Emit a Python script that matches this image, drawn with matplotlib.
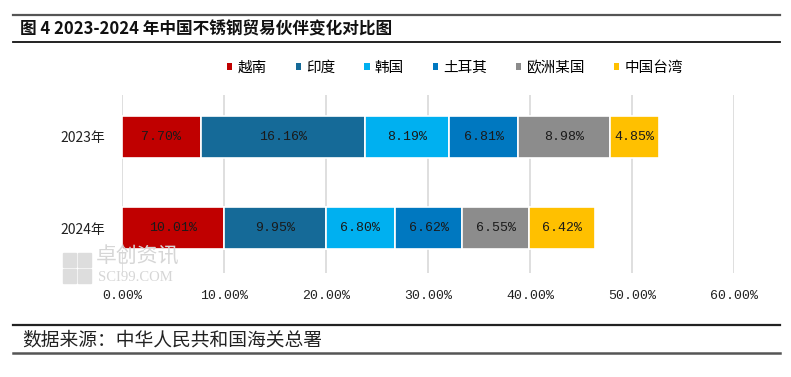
import matplotlib
matplotlib.use("Agg")
import matplotlib.pyplot as plt
from matplotlib.lines import Line2D
from matplotlib.patches import Patch
import numpy as np

plt.rcParams['font.family'] = ['Noto Sans CJK SC', 'DejaVu Sans']

# data (share of China's stainless steel trade, %)
years = ["2023年", "2024年"]
partners = ["越南", "印度", "韩国", "土耳其", "欧洲某国", "中国台湾"]
share_2023 = [7.70, 16.16, 8.19, 6.81, 8.98, 4.85]
share_2024 = [10.01, 9.95, 6.80, 6.62, 6.55, 6.42]
colors = ["#C00000", "#156A98", "#00B0F0", "#0078C0", "#8C8C8C", "#FFC000"]
xticks = [0, 10, 20, 30, 40, 50, 60]

fig = plt.figure(figsize=(7.91, 3.77), dpi=100)
ax = fig.add_axes([122 / 791, 1 - 273 / 377, 612 / 791, 178 / 377])

values = np.array([share_2023, share_2024])
ypos = np.arange(len(years))
left = np.zeros(len(years))
for i, name in enumerate(partners):
    w = values[:, i]
    ax.barh(ypos, w, left=left, height=0.46, color=colors[i],
            edgecolor="white", linewidth=1.2, zorder=3)
    for y, l, v in zip(ypos, left, w):
        ax.text(l + v / 2, y, f"{v:.2f}%", ha="center", va="center",
                fontsize=9.5, family="Liberation Mono", color="#1a1a1a", zorder=4)
    left += w

ax.set_xlim(0, 60)
ax.set_ylim(1.49, -0.46)
ax.set_xticks(xticks)
ax.set_xticklabels([f"{t:.2f}%" for t in xticks], family="Liberation Mono", fontsize=9.5)
ax.set_yticks(ypos)
ax.set_yticklabels(years, fontsize=10)
ax.tick_params(axis="both", length=0, colors="#222222")
ax.tick_params(axis="x", pad=12)
ax.tick_params(axis="y", pad=12)
ax.grid(axis="x", color="#D9D9D9", linewidth=1.2, zorder=0)
for s in ax.spines.values():
    s.set_visible(False)

# legend
handles = [Patch(facecolor=c, edgecolor="none") for c in colors]
fig.legend(handles, partners, loc="center", bbox_to_anchor=(455 / 791, 1 - 68 / 377),
           ncol=6, frameon=False, fontsize=10.5, handlelength=0.35, handleheight=0.35,
           handletextpad=0.35, columnspacing=2.0)

# watermark
fig.text(96 / 791, 1 - 268 / 377, "卓创资讯", fontsize=15, color="#D6D6D6",
         ha="left", va="bottom", zorder=0)
fig.text(98 / 791, 1 - 271 / 377, "SCI99.COM", fontsize=10.5, color="#D6D6D6",
         family="Liberation Serif", ha="left", va="top", zorder=0)
for dx, dy in [(0, 0), (15, 0), (0, 16), (15, 16)]:
    fig.patches.append(plt.Rectangle(((63 + dx) / 791, 1 - (283 - dy) / 377), 13 / 791, 14 / 377,
                                     transform=fig.transFigure, color="#DDDDDD", zorder=0))

# header / footer rules and text
x0, x1 = 13 / 791, 780 / 791
fig.add_artist(Line2D([x0, x1], [1 - 15 / 377] * 2, color="#555555", lw=1.6))
fig.add_artist(Line2D([x0, x1], [1 - 42 / 377] * 2, color="#111111", lw=1.3))
fig.add_artist(Line2D([x0, x1], [1 - 325 / 377] * 2, color="#222222", lw=1.6))
fig.add_artist(Line2D([x0, x1], [1 - 353 / 377] * 2, color="#555555", lw=1.8))

fig.text(20 / 791, 1 - 29 / 377, "图 4 2023-2024 年中国不锈钢贸易伙伴变化对比图",
         fontsize=12, fontweight="bold", color="#111111", ha="left", va="center")
fig.text(22 / 791, 1 - 340 / 377, "数据来源：中华人民共和国海关总署",
         fontsize=13.5, color="#222222", ha="left", va="center")

fig.savefig("out.png", dpi=100)
